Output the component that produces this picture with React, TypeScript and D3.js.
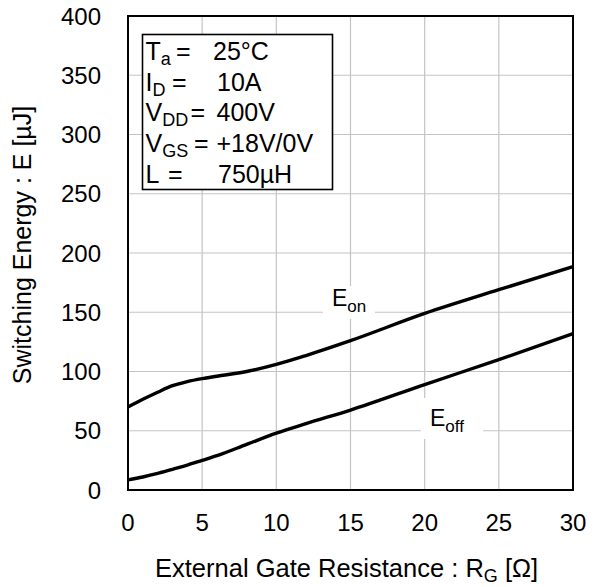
import * as d3 from "d3";

const rg = [0, 1, 2, 3, 4, 5, 6, 8, 10, 12, 15, 20, 25, 30];
const eOn = [70, 76.5, 82.5, 88, 91.5, 94, 96, 100, 106, 113.5, 126, 149, 169, 188.5];
const eOff = [8.5, 11, 14, 17.5, 21, 25, 29, 38.5, 48, 56, 67.5, 89, 110, 132];
const xTicks = [0, 5, 10, 15, 20, 25, 30];
const yTicks = [0, 50, 100, 150, 200, 250, 300, 350, 400];
const condNames = ["T", "I", "V", "V", "L"];
const condSubs = ["a", "D", "DD", "GS", ""];
const condValues = ["25°C", "10A", "400V", "+18V/0V", "750µH"];

const W = 596;
const H = 587;
const m = { left: 128, right: 573, top: 16, bottom: 490 };
const font = "'Liberation Sans', Arial, sans-serif";

// layout of the conditions box rows
const eqX = [176, 172, 190.5, 194, 168];
const valX = [213, 217, 216.5, 216.5, 218];

export default function App() {
  const x = d3.scaleLinear().domain([0, 30]).range([m.left, m.right]);
  const y = d3.scaleLinear().domain([0, 400]).range([m.bottom, m.top]);
  const line = d3
    .line<number>()
    .x((_, i) => x(rg[i]))
    .y((d) => y(d))
    .curve(d3.curveMonotoneX);

  return (
    <svg
      width={W}
      height={H}
      style={{ position: "absolute", left: 0, top: 0, background: "#fff" }}
      fontFamily={font}
    >
      {/* grid */}
      {xTicks.map((t) => (
        <line key={"gx" + t} x1={x(t)} x2={x(t)} y1={m.top} y2={m.bottom} stroke="#c4c4c4" strokeWidth={1.2} />
      ))}
      {yTicks.map((t) => (
        <line key={"gy" + t} x1={m.left} x2={m.right} y1={y(t)} y2={y(t)} stroke="#c4c4c4" strokeWidth={1.2} />
      ))}

      {/* curve labels (white boxes cut the grid) */}
      <rect x={323} y={286} width={52} height={33} fill="#fff" />
      <text x={332} y={y(150) - 6} fontSize={23}>
        E<tspan fontSize={17} dy={6}>on</tspan>
      </text>
      <rect x={421} y={398} width={62} height={41} fill="#fff" />
      <text x={430} y={y(50) - 5} fontSize={23}>
        E<tspan fontSize={17} dy={6}>off</tspan>
      </text>

      {/* curves */}
      <path d={line(eOn) ?? ""} fill="none" stroke="#000" strokeWidth={3.4} />
      <path d={line(eOff) ?? ""} fill="none" stroke="#000" strokeWidth={3.4} />

      {/* conditions box */}
      <rect x={142.5} y={34.5} width={190} height={155} fill="#fff" stroke="#000" strokeWidth={1.6} />
      {condNames.map((n, i) => {
        const by = 60 + i * 30.7;
        return (
          <g key={i} fontSize={25}>
            <text x={145.5} y={by}>
              {n}
              {condSubs[i] && (
                <tspan fontSize={18} dy={5}>
                  {condSubs[i]}
                </tspan>
              )}
            </text>
            <text x={eqX[i]} y={by}>=</text>
            <text x={valX[i]} y={by}>
              {condValues[i]}
            </text>
          </g>
        );
      })}

      {/* frame */}
      <rect
        x={m.left}
        y={m.top}
        width={m.right - m.left}
        height={m.bottom - m.top}
        fill="none"
        stroke="#000"
        strokeWidth={2}
      />

      {/* tick labels */}
      {xTicks.map((t) => (
        <text key={"tx" + t} x={x(t)} y={530.5} fontSize={24} textAnchor="middle">
          {t}
        </text>
      ))}
      {yTicks.map((t) => (
        <text key={"ty" + t} x={101} y={y(t) + 8.6} fontSize={24} textAnchor="end">
          {t}
        </text>
      ))}

      {/* axis titles */}
      <text x={155} y={577} fontSize={25.5}>
        External Gate Resistance : R<tspan fontSize={18} dy={5}>G</tspan>
        <tspan dy={-5}> [Ω]</tspan>
      </text>
      <text transform={`translate(31, 245) rotate(-90)`} fontSize={25} textAnchor="middle">
        Switching Energy : E [µJ]
      </text>
    </svg>
  );
}
